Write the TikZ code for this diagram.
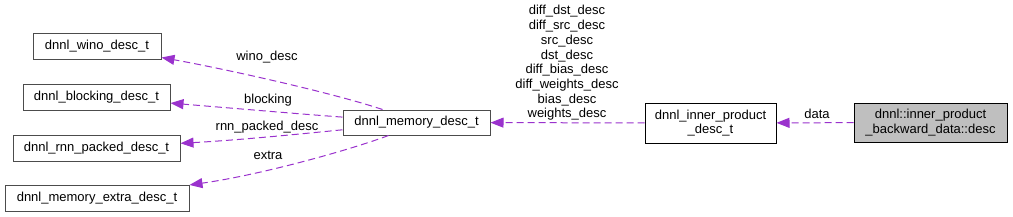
\documentclass[tikz,border=0pt]{standalone}
\usepackage{fontspec}
\setmainfont{Liberation Sans}
\usetikzlibrary{arrows.meta}
\definecolor{edgepurple}{HTML}{9A32CD}
\definecolor{rootgray}{HTML}{BFBFBF}

\begin{document}
\begin{tikzpicture}[x=1pt, y=-1pt,
  box/.style={draw=black!70, line width=1pt, inner sep=2pt, minimum height=26pt,
    align=center, font=\fontsize{13}{14.7}\selectfont},
  edge/.style={draw=edgepurple, line width=1pt, dash pattern=on 7pt off 4pt,
    -{Triangle[length=13pt, width=10pt]}},
  elabel/.style={align=center, inner sep=0pt, font=\fontsize{13}{14.7}\selectfont}]
  \useasboundingbox (0,0) rectangle (1013,217);

  % member structs on the left
  \node[box, minimum width=128pt] (wino)     at (97,46)    {dnnl\_wino\_desc\_t};
  \node[box, minimum width=147pt] (blocking) at (96.5,97)  {dnnl\_blocking\_desc\_t};
  \node[box, minimum width=167pt] (rnn)      at (96.5,148) {dnnl\_rnn\_packed\_desc\_t};
  \node[box, minimum width=184pt] (extra)    at (97,198)   {dnnl\_memory\_extra\_desc\_t};

  % middle and right
  \node[box, minimum width=147pt, minimum height=25pt] (mem) at (416.5,122.5) {dnnl\_memory\_desc\_t};
  \node[box, draw=black, minimum width=131pt, minimum height=40pt] (inner) at (710.5,123) {dnnl\_inner\_product\\\_desc\_t};
  \node[box, draw=black, fill=rootgray, minimum width=153pt, minimum height=39pt] (desc) at (930.5,122.5) {dnnl::inner\_product\\\_backward\_data::desc};

  % connectors
  \draw[edge] ([xshift=40pt]mem.north west) .. controls (330,92) and (220,68) .. (wino);
  \draw[edge] (mem) .. controls (300,114) and (230,108) .. (blocking);
  \draw[edge] (mem) .. controls (300,134) and (240,140) .. (rnn);
  \draw[edge] ([xshift=-28pt]mem.south) .. controls (350,150) and (260,175) .. (extra);
  \draw[edge] (inner) -- (mem);
  \draw[edge] (desc) -- (inner);

  % edge labels
  \node[elabel] (lwino)     at (267,57)  {wino\_desc};
  \node[elabel] (lblocking) at (268,100) {blocking};
  \node[elabel] (lrnn)      at (267,127) {rnn\_packed\_desc};
  \node[elabel] (lextra)    at (268,155) {extra};
  \node[elabel] (lmem)      at (567,63)  {diff\_dst\_desc\\diff\_src\_desc\\src\_desc\\dst\_desc\\diff\_bias\_desc\\diff\_weights\_desc\\bias\_desc\\weights\_desc};
  \node[elabel] (ldata)     at (817,114) {data};
\end{tikzpicture}
\end{document}
